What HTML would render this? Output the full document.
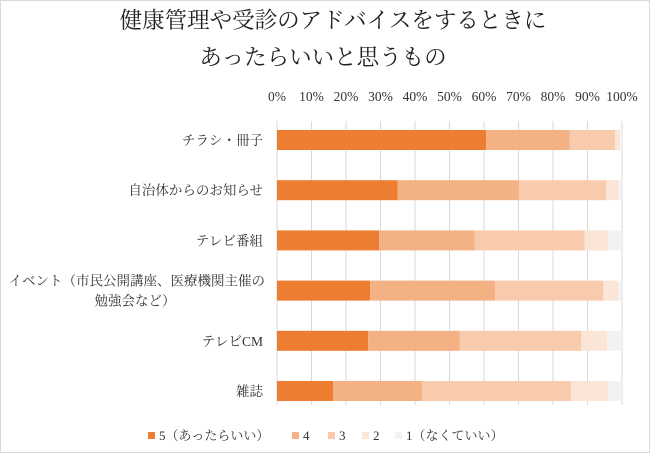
<!DOCTYPE html>
<html><head><meta charset="utf-8"><style>
body{margin:0;background:#fff}
svg{display:block;font-family:"Liberation Serif","Noto Serif CJK JP",serif}
</style></head><body>
<svg id="c" width="650" height="454" viewBox="0 0 650 454">
<rect x="0.5" y="0.5" width="649" height="452" fill="#fff" stroke="#d9d9d9"/>
<text x="333" y="28" font-size="22.5" text-anchor="middle" fill="#222">健康管理や受診のアドバイスをするときに</text>
<text x="323" y="65" font-size="22.5" text-anchor="middle" fill="#222">あったらいいと思うもの</text>
<g id="grid"></g><g id="ticks"></g><g id="bars"></g><g id="cats"></g><g id="legend"></g>
</svg>
<script>
const categories=["チラシ・冊子","自治体からのお知らせ","テレビ番組","イベント（市民公開講座、医療機関主催の|勉強会など）","テレビCM","雑誌"];
const s5=[60.6,35.0,29.6,27.0,26.4,16.3];
const s4=[24.2,35.1,27.7,36.2,26.6,25.7];
const s3=[13.2,25.3,31.9,31.4,35.2,43.2];
const s2=[1.4,3.5,6.8,4.3,7.5,10.7];
const s1=[0.6,1.1,4.0,1.1,4.3,4.1];
const tickLabels=["0%","10%","20%","30%","40%","50%","60%","70%","80%","90%","100%"];
const seriesNames=["5（あったらいい）","4","3","2","1（なくていい）"];
const series=[s5,s4,s3,s2,s1];
const colors=["#ED7D31","#F4B183","#F8CBAD","#FBE5D6","#F2F2F2"];
const NS="http://www.w3.org/2000/svg";
const x=v=>277+v*3.45;
const yc=i=>140+i*50.2;
function mk(t,a,p){const e=document.createElementNS(NS,t);for(const k in a)e.setAttribute(k,a[k]);document.getElementById(p).appendChild(e);return e;}
tickLabels.forEach((t,i)=>{
 const g=mk("line",{x1:x(i*10),x2:x(i*10),y1:121,y2:405,stroke:"#d9d9d9","stroke-width":1},"grid");
 
 
 const tx=mk("text",{x:x(i*10),y:101,"font-size":13.5,"text-anchor":"middle",fill:"#333"},"ticks");
 tx.textContent=t;
 
 
});
categories.forEach((c,i)=>{
 let acc=0;
 series.forEach((s,j)=>{
  const r=mk("rect",{x:x(acc),y:yc(i)-10,width:s[i]*3.45,height:20,fill:colors[j]},"bars");
  
  
  acc+=s[i];
 });
 const parts=c.split("|");
 if(parts.length===1){
  const t=mk("text",{x:263,y:yc(i)+5,"font-size":13.5,"text-anchor":"end",fill:"#333"},"cats");
  t.textContent=c;
  
  
 }else{
  parts.forEach((p,k)=>{
   const t=mk("text",{x:k===0?265:135,y:yc(i)-5+k*20,"font-size":13.5,"text-anchor":k===0?"end":"middle",fill:"#333"},"cats");
   t.textContent=p;
   
   
  });
 }
});
const lx=[148,292,328,362,395];
seriesNames.forEach((n,j)=>{
 const r=mk("rect",{x:lx[j],y:432,width:7,height:7,fill:colors[j]},"legend");
 
 
 const t=mk("text",{x:lx[j]+11,y:440,"font-size":13,fill:"#333"},"legend");
 t.textContent=n;
 
 
});
</script>
</body></html>
